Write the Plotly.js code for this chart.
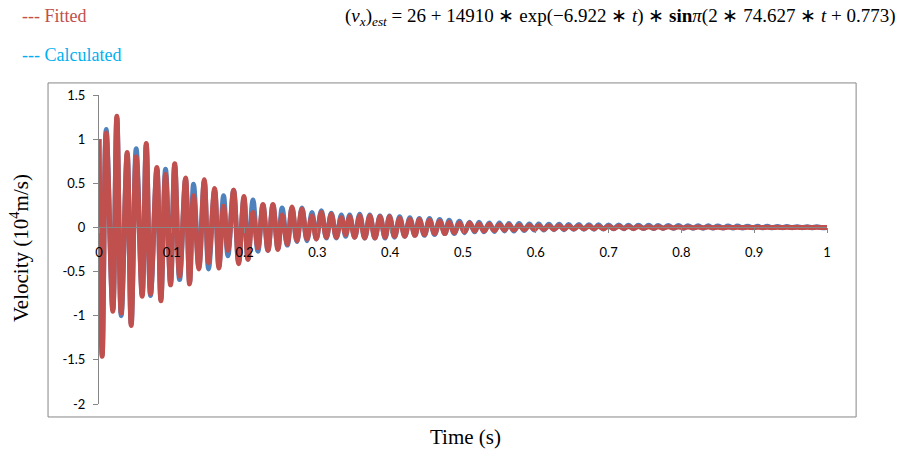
<!DOCTYPE html>
<html>
<head>
<meta charset="utf-8">
<script src="https://cdn.plot.ly/plotly-3.0.1.min.js"></script>
<style>html,body{margin:0;padding:0;background:#fff;}#chart{width:904px;height:456px;}</style>
</head>
<body>
<div id="chart"></div>
<script>
// Times (s) of the turning points
const timeExt = [
0.000,0.0044,0.0099,0.0190,0.0245,0.0305,0.0387,0.0442,0.0511,0.0593,
0.0649,0.0708,0.0795,0.0850,0.0914,0.0983,0.1040,0.1107,0.1189,0.1244,
0.1299,0.1372,0.1446,0.1505,0.1588,0.1647,0.1711,0.1771,0.1849,0.1918,
0.1991,0.2046,0.2115,0.2183,0.2252,0.2321,0.2389,0.2458,0.2515,0.2587,
0.2651,0.2719,0.2788,0.2857,0.2926,0.2985,0.3054,0.3123,0.3191,0.3260,
0.3329,0.3388,0.3443,0.3512,0.3581,0.365,0.372,0.379,0.386,0.393,
0.399,0.406,0.413,0.420,0.427,0.434,0.440,0.447,0.454,0.461,
0.468,0.475,0.481,0.488,0.495,0.502,0.509,0.516,0.522,0.529,
0.536,0.543,0.550,0.557,0.563,0.570,0.577,0.584,0.591,0.598,
0.604,0.611,0.618,0.625,0.632,0.639,0.645,0.652,0.659,0.666,
0.673,0.680,0.686,0.693,0.700,0.707,0.714,0.721,0.727,0.734,
0.741,0.748,0.755,0.762,0.768,0.775,0.782,0.789,0.796,0.803,
0.809,0.816,0.823,0.830,0.837,0.843,0.850,0.857,0.864,0.871,
0.877,0.884,0.891,0.898,0.905,0.911,0.918,0.925,0.932,0.939,
0.945,0.952,0.959,0.966,0.973,0.979,0.986,0.993,1.000
];
// Fitted velocity (10^4 m/s)
const fittedVel = [
1.00,-1.46,1.07,-0.95,1.26,-0.97,0.85,-1.11,0.80,-0.78,
0.95,-0.75,0.68,-0.83,0.60,-0.65,0.72,-0.55,0.56,-0.64,
0.36,-0.47,0.54,-0.40,0.44,-0.46,0.24,-0.26,0.42,-0.41,
0.35,-0.36,0.17,-0.23,0.26,-0.26,0.26,-0.25,0.14,-0.19,
0.23,-0.15,0.21,-0.13,0.13,-0.13,0.17,-0.11,0.15,-0.11,
0.11,-0.08,0.12,-0.11,0.13,-0.12,0.13,-0.12,0.12,-0.11,
0.12,-0.10,0.10,-0.10,0.09,-0.09,0.09,-0.08,0.08,-0.07,
0.07,-0.07,0.06,-0.06,0.05,-0.05,0.05,-0.04,0.04,-0.04,
0.035,-0.035,0.03,-0.03,0.03,-0.03,0.025,-0.025,0.022,-0.022,
0.02,-0.02,0.02,-0.02,0.018,-0.018,0.017,-0.017,0.016,-0.016,
0.015,-0.015,0.014,-0.014,0.013,-0.013,0.012,-0.012,0.011,-0.011,
0.010,-0.010,0.009,-0.009,0.008,-0.008,0.007,-0.007,0.006,-0.006,
0.005,-0.005,0.004,-0.004,0.004,-0.003,0.003,-0.003,0.003,-0.002,
0.002,-0.002,0.002,-0.002,0.002,-0.001,0.001,-0.001,0.001,-0.001,
0.001,-0.001,0.001,-0.001,0.001,-0.001,0.001,-0.001,0.000
];
// Calculated velocity (10^4 m/s)
const calcVel = [
1.00,-1.44,1.11,-0.93,1.24,-1.00,0.83,-1.09,0.89,-0.76,
0.93,-0.77,0.66,-0.81,0.66,-0.63,0.70,-0.59,0.54,-0.62,
0.49,-0.45,0.52,-0.47,0.42,-0.44,0.36,-0.32,0.42,-0.39,
0.33,-0.36,0.31,-0.27,0.25,-0.26,0.25,-0.24,0.22,-0.20,
0.22,-0.16,0.22,-0.15,0.17,-0.13,0.19,-0.12,0.16,-0.12,
0.14,-0.10,0.14,-0.11,0.15,-0.12,0.14,-0.12,0.13,-0.12,
0.13,-0.11,0.12,-0.10,0.11,-0.09,0.10,-0.09,0.10,-0.08,
0.09,-0.07,0.08,-0.07,0.07,-0.06,0.06,-0.05,0.06,-0.05,
0.05,-0.045,0.05,-0.04,0.045,-0.04,0.045,-0.035,0.04,-0.03,
0.04,-0.03,0.035,-0.025,0.035,-0.025,0.033,-0.022,0.032,-0.02,
0.03,-0.02,0.03,-0.018,0.028,-0.016,0.027,-0.015,0.026,-0.014,
0.025,-0.013,0.024,-0.012,0.023,-0.011,0.022,-0.010,0.021,-0.009,
0.020,-0.008,0.019,-0.008,0.018,-0.007,0.017,-0.007,0.016,-0.006,
0.015,-0.006,0.014,-0.005,0.013,-0.005,0.012,-0.004,0.011,-0.004,
0.010,-0.004,0.009,-0.003,0.008,-0.003,0.007,-0.003,0.000
];
const xTickVals = [0,0.1,0.2,0.3,0.4,0.5,0.6,0.7,0.8,0.9,1];
const xTickText = ["0","0.1","0.2","0.3","0.4","0.5","0.6","0.7","0.8","0.9","1"];
const yTickVals = [-2,-1.5,-1,-0.5,0,0.5,1,1.5];
const yTickText = ["-2","-1.5","-1","-0.5","0","0.5","1","1.5"];

const traces = [
  {x: timeExt, y: calcVel, type: 'scatter', mode: 'lines', name: 'Calculated',
   line: {color: '#4F81BD', width: 5, shape: 'spline', smoothing: 1}},
  {x: timeExt, y: fittedVel, type: 'scatter', mode: 'lines', name: 'Fitted',
   line: {color: '#C0504D', width: 5, shape: 'spline', smoothing: 1}}
];

const tickFont = {family: 'Lato, "Open Sans", sans-serif', size: 13, color: '#000'};
const layout = {
  width: 904, height: 456,
  margin: {l: 99, r: 77, t: 95, b: 52, pad: 0},
  paper_bgcolor: '#fff', plot_bgcolor: 'rgba(0,0,0,0)',
  showlegend: false,
  xaxis: {range: [0, 1], anchor: 'free', position: 0.5714, tickvals: xTickVals, ticktext: xTickText,
          showline: true, linecolor: '#868686', linewidth: 1, ticks: 'outside', ticklen: 5,
          tickcolor: '#868686', showgrid: false, zeroline: false, tickfont: tickFont,
          ticklabelstandoff: 8},
  yaxis: {range: [-2, 1.5], tickvals: yTickVals, ticktext: yTickText, showline: true,
          linecolor: '#868686', linewidth: 1, ticks: 'outside', ticklen: 5, tickcolor: '#868686',
          showgrid: false, zeroline: false, tickfont: tickFont, ticklabelstandoff: 5},
  shapes: [
    {type: 'rect', xref: 'paper', yref: 'paper', x0: -0.070, x1: 1.040, y0: -0.042, y1: 1.039,
     line: {color: '#868686', width: 1}, fillcolor: 'rgba(0,0,0,0)', layer: 'below'}
  ],
  annotations: [
    {xref: 'paper', yref: 'paper', x: 0.504, y: -0.107, text: 'Time (s)', showarrow: false,
     xanchor: 'center', yanchor: 'middle', font: {family: '"Liberation Serif", serif', size: 21, color: '#000'}},
    {xref: 'paper', yref: 'paper', x: -0.1085, y: 0.505, text: 'Velocity (10<sup>4</sup>m/s)', showarrow: false,
     textangle: -90, xanchor: 'center', yanchor: 'middle', font: {family: '"Liberation Serif", serif', size: 21, color: '#000'}},
    {xref: 'paper', yref: 'paper', x: -0.109, y: 1.257, text: '--- Fitted', showarrow: false,
     xanchor: 'left', yanchor: 'middle', font: {family: '"Liberation Serif", serif', size: 18, color: '#C0504D'}},
    {xref: 'paper', yref: 'paper', x: -0.109, y: 1.128, text: '--- Calculated', showarrow: false,
     xanchor: 'left', yanchor: 'middle', font: {family: '"Liberation Serif", serif', size: 18, color: '#00B0F0'}},
    {xref: 'paper', yref: 'paper', x: 1.096, y: 1.252, showarrow: false, xanchor: 'right', yanchor: 'middle',
     text: '(<i>v<sub>x</sub></i>)<sub><i>est</i></sub> = 26 + 14910 ∗ exp(−6.922 ∗ <i>t</i>) ∗ <b>sin</b><i>π</i>(2 ∗ 74.627 ∗ <i>t</i> + 0.773)',
     font: {family: '"Liberation Serif", serif', size: 19, color: '#000'}}
  ]
};
Plotly.newPlot('chart', traces, layout, {staticPlot: true, displayModeBar: false});
</script>
</body>
</html>
